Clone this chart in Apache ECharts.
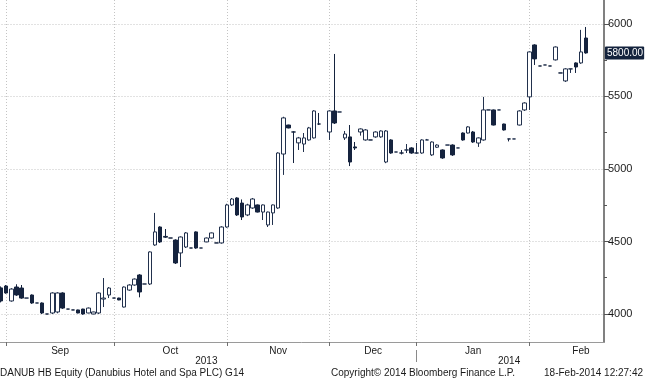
<!DOCTYPE html>
<html><head><meta charset="utf-8">
<script src="https://cdn.jsdelivr.net/npm/echarts@6/dist/echarts.min.js"></script>
<style>html,body{margin:0;padding:0;background:#fff}#c{width:645px;height:380px}</style>
</head><body><div id="c"></div>
<script>
const dates = [
 '2013-08-30',
 '2013-09-02','2013-09-03','2013-09-04','2013-09-05','2013-09-06','2013-09-09','2013-09-10','2013-09-11','2013-09-12','2013-09-13',
 '2013-09-16','2013-09-17','2013-09-18','2013-09-19','2013-09-20','2013-09-23','2013-09-24','2013-09-25','2013-09-26','2013-09-27','2013-09-30',
 '2013-10-01','2013-10-02','2013-10-03','2013-10-04','2013-10-07','2013-10-08','2013-10-09','2013-10-10','2013-10-11','2013-10-14',
 '2013-10-15','2013-10-16','2013-10-17','2013-10-18','2013-10-21','2013-10-22','2013-10-24','2013-10-25','2013-10-28','2013-10-29','2013-10-30','2013-10-31',
 '2013-11-04','2013-11-05','2013-11-06','2013-11-07','2013-11-08','2013-11-11','2013-11-12','2013-11-13','2013-11-14','2013-11-15',
 '2013-11-18','2013-11-19','2013-11-20','2013-11-21','2013-11-22','2013-11-25','2013-11-26','2013-11-27','2013-11-28','2013-11-29',
 '2013-12-02','2013-12-03','2013-12-04','2013-12-05','2013-12-06','2013-12-09','2013-12-10','2013-12-11','2013-12-12','2013-12-13',
 '2013-12-16','2013-12-17','2013-12-18','2013-12-19','2013-12-20','2013-12-23','2013-12-30',
 '2014-01-02','2014-01-03','2014-01-06','2014-01-07','2014-01-08','2014-01-09','2014-01-10','2014-01-13','2014-01-14','2014-01-15','2014-01-16',
 '2014-01-17','2014-01-20','2014-01-21','2014-01-22','2014-01-23','2014-01-24','2014-01-27','2014-01-28','2014-01-29','2014-01-30','2014-01-31',
 '2014-02-03','2014-02-04','2014-02-05','2014-02-06','2014-02-07','2014-02-10','2014-02-11','2014-02-12','2014-02-13','2014-02-14',
 '2014-02-17','2014-02-18','2014-02-19','2014-02-20','2014-02-21'
];
const openV = [4180,4193,4090,4186,4179,4110,4131,4076,4076,4000,
 4007,4014,4145,4034,4028,4028,4034,4007,4000,4007,
 4103,4131,4110,4110,4048,4165,4200,4269,4207,4207,
 4476,4600,4535,4524,4510,4421,4462,4455,4566,4455,
 4497,4524,4490,4490,4600,4752,4800,4765,4683,4731,
 4752,4703,4614,4697,4731,5103,5303,5255,5180,5172,
 5200,5214,5310,null,5255,5400,5393,5214,5221,5152,
 5255,5200,5200,5221,5221,5048,5200,5117,5110,5131,
 5145,5110,5110,5200,5097,5150,5131,5165,5165,5145,
 5248,5248,5255,5179,5200,5407,5407,5407,5310,5207,
 5207,5303,5407,5497,5855,5710,5717,5710,5752,5662,
 5607,5690,5731,5731,5903,null,null,null];
const closeV = [4090,4145,4172,4131,4110,4110,4076,4076,4007,4000,
 4145,4145,4041,4034,4028,4007,4000,4041,4014,4145,
 4110,4179,4110,4097,4186,4200,4241,4152,4207,4428,
 4566,4497,4530,4524,4352,4531,4559,4455,4455,4455,
 4524,4559,4490,4600,4752,4793,4683,4669,4752,4793,
 4703,4752,4703,4752,5110,5352,5283,5255,5214,5214,
 5283,5400,5310,null,5400,5317,5393,5241,5048,5145,
 5276,5269,5200,5255,5262,5262,5110,5117,5110,5131,
 5110,5110,5200,5200,5186,5165,5076,5165,5097,5145,
 5200,5290,5186,5214,5407,5407,5303,5407,5269,5207,
 5207,5400,5455,5807,5759,5710,5717,5710,5841,5662,
 5690,5690,5703,5807,5800,null,null,null];
const lowV = [4080,4140,4085,4125,4105,4110,4070,4076,4000,4000,
 4000,4005,4035,4034,4028,4005,3995,4005,3998,4000,
 4048,4110,4110,4095,4045,4160,4195,4115,4207,4200,
 4470,4490,4524,4524,4345,4324,4455,4455,4450,4455,
 4495,4520,4490,4485,4595,4745,4676,4648,4675,4725,
 4700,4648,4600,4614,4725,4959,5280,5041,5131,5117,
 5195,5210,5303,null,5200,5310,5393,5200,5020,5131,
 5230,5195,5200,5215,5215,5040,5105,5117,5100,5110,
 5105,5105,5105,5200,5090,5145,5070,5165,5090,5145,
 5195,5245,5180,5152,5195,5407,5300,5407,5265,5190,
 5207,5300,5400,5407,5717,5710,5717,5710,5748,5662,
 5600,5662,5662,5725,5795,null,null,null];
const highV = [4190,4200,4178,4205,4200,4110,4135,4076,4080,4000,
 4150,4150,4150,4034,4028,4030,4036,4045,4016,4150,
 4248,4186,4110,4112,4190,4205,4245,4275,4207,4432,
 4697,4605,4586,4524,4515,4535,4565,4455,4570,4455,
 4527,4562,4490,4605,4760,4800,4805,4790,4760,4800,
 4755,4755,4706,4755,5115,5360,5305,5260,5221,5248,
 5290,5405,5386,null,5405,5793,5393,5262,5303,5186,
 5280,5275,5200,5260,5266,5268,5205,5117,5131,5172,
 5150,5179,5205,5207,5190,5170,5135,5165,5170,5145,
 5252,5295,5262,5218,5497,5407,5410,5407,5312,5207,
 5207,5405,5460,5810,5860,5710,5717,5710,5845,5662,
 5695,5690,5735,5959,5979,null,null,null];

const monthLabels = ['Sep','Oct','Nov','Dec','Jan','Feb'];
const lastMonthTradingDays = 20;
const yearLabels = ['2013','2014'];
const yMajorTicks = [4000,4500,5000,5500,6000];
const yMinorTicks = [4250,4750,5250,5750];
const lastPrice = 5800;
const footerTexts = ['DANUB HB Equity (Danubius Hotel and Spa PLC) G14','Copyright\u00a9 2014 Bloomberg Finance L.P.','18-Feb-2014 12:27:42'];

const FONT = 'Liberation Sans';
const N = dates.length;
const candles = dates.map((d,i)=> openV[i]==null ? ['-','-','-','-'] : [openV[i], closeV[i], lowV[i], highV[i]]);

const monthStart = [], yearStart = [];
dates.forEach((d,i)=>{
  if (i>0 && d.slice(5,7)!==dates[i-1].slice(5,7)) monthStart.push(i);
  if (i>0 && d.slice(0,4)!==dates[i-1].slice(0,4)) yearStart.push(i);
});
const halfData = Array.from({length: 2*N+1}, (_, j) => String(j));
const monthTickJ = new Set(monthStart.map(i => 2*i+1));
const monthLabelJ = {};
monthStart.forEach((s,k)=>{
  const e = k+1 < monthStart.length ? monthStart[k+1] : s + lastMonthTradingDays;
  monthLabelJ[Math.round((2*s+1 + 2*e+1)/2)] = monthLabels[k];
});
const yearBounds = [-0.5].concat(yearStart, [N-0.5]);
const yearLabelIdx = {};
yearLabels.forEach((y,k)=>{ yearLabelIdx[Math.round((yearBounds[k] + yearBounds[k+1])/2)] = y; });
const yearTickIdx = new Set(yearStart);

const yMin = 3807, yMax = 6165;

const chart = echarts.init(document.getElementById('c'), null, {renderer:'canvas'});
chart.setOption({
  animation: false,
  backgroundColor: '#ffffff',
  title: footerTexts.map((t,k)=>({
    text: t, padding: 0, top: 368,
    left: k===0 ? 0 : (k===1 ? 331 : undefined),
    right: k===2 ? 2 : undefined,
    textStyle: {fontFamily: FONT, fontSize: 10, fontWeight: 'normal', color: '#1a1a1a'}
  })),
  grid: {left: -1.5, right: 41, top: 0, bottom: 38, containLabel: false, outerBoundsMode: 'none'},
  xAxis: [
    { type: 'category', data: dates, boundaryGap: true, position: 'bottom', offset: 8,
      axisLine: {show: false},
      axisTick: {show: true, alignWithLabel: true, length: 12, interval: (i)=> yearTickIdx.has(i), lineStyle: {color: '#8a8a8a', width: 1}},
      axisLabel: {show: true, interval: (i)=> yearLabelIdx[i] !== undefined, formatter: (v,i)=> yearLabelIdx[i] || '',
        fontFamily: FONT, fontSize: 10, color: '#1a1a1a', margin: 6},
      splitLine: {show: false} },
    { type: 'category', data: halfData, boundaryGap: false, position: 'bottom', offset: 0,
      axisLine: {show: true, lineStyle: {color: '#9a9a9a', width: 1}},
      axisTick: {show: true, length: 4, interval: (j)=> monthTickJ.has(j), lineStyle: {color: '#707070'}},
      axisLabel: {show: true, interval: (j)=> monthLabelJ[j] !== undefined, formatter: (v,j)=> monthLabelJ[j] || '',
        fontFamily: FONT, fontSize: 10, color: '#1a1a1a', margin: 4},
      splitLine: {show: true, interval: (j)=> monthTickJ.has(j), lineStyle: {color: '#c4c4c4', type: [1,2], width: 1}} }
  ],
  yAxis: [
    { type: 'value', position: 'right', min: yMin, max: yMax, scale: true,
      axisLine: {show: true, lineStyle: {color: '#808080', width: 2}},
      axisTick: {show: true, inside: false, length: 5, customValues: yMajorTicks, lineStyle: {color: '#555'}},
      axisLabel: {show: true, customValues: yMajorTicks, formatter: (v)=> String(v), fontFamily: FONT, fontSize: 11, color: '#1a1a1a', margin: 4},
      splitLine: {show: true, lineStyle: {color: '#c4c4c4', type: [1,2], width: 1}} },
    { type: 'value', position: 'right', min: yMin, max: yMax, scale: true,
      axisLine: {show: false},
      axisTick: {show: true, length: 3, customValues: yMinorTicks, lineStyle: {color: '#555'}},
      axisLabel: {show: false},
      splitLine: {show: false} }
  ],
  series: [{
    type: 'candlestick', xAxisIndex: 0, yAxisIndex: 0, data: candles, barWidth: 4, clip: false,
    itemStyle: {color: '#ffffff', color0: '#15233e', borderColor: '#22314d', borderColor0: '#15233e', borderWidth: 1},
    markLine: {
      silent: true, symbol: ['none','none'], animation: false,
      lineStyle: {color: 'rgba(0,0,0,0)', width: 1, type: 'solid'},
      label: {show: true, position: 'end', distance: 1, formatter: ()=> lastPrice.toFixed(2),
          backgroundColor: '#14233d', color: '#ffffff', padding: [2,1,1,2], fontFamily: FONT, fontSize: 10, borderRadius: 1},
      data: [{yAxis: lastPrice}]
    }
  }]
});
</script></body></html>
